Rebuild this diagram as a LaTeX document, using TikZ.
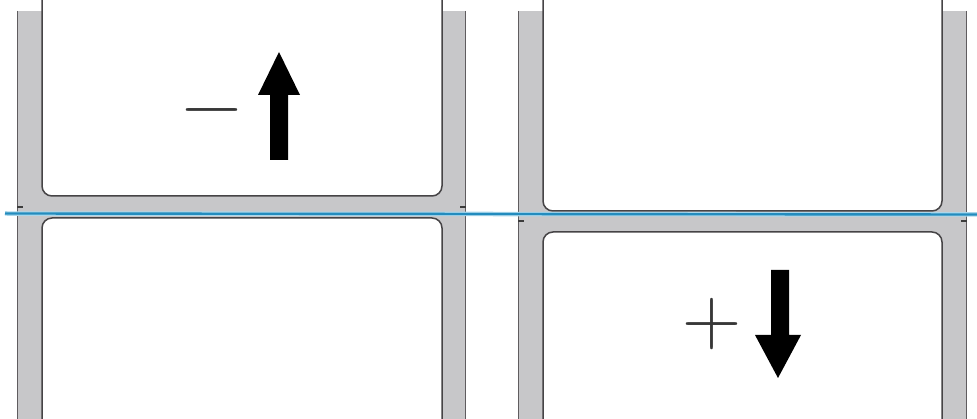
\documentclass[tikz,border=0pt]{standalone}
\definecolor{linergray}{RGB}{199,199,201}
\definecolor{edgegray}{RGB}{95,92,95}
\definecolor{labeledge}{RGB}{70,68,70}
\definecolor{tickgray}{RGB}{60,60,60}
\definecolor{signgray}{RGB}{55,55,55}
\definecolor{cutblue}{RGB}{35,140,190}
\definecolor{cuthalo}{RGB}{170,215,235}
\begin{document}
\begin{tikzpicture}[x=1pt,y=-1pt,
  liner/.style={fill=linergray},
  edge/.style={draw=edgegray,line width=1.8pt},
  labelbox/.style={fill=white,draw=labeledge,line width=1.5pt,rounded corners=10pt},
  tick/.style={draw=tickgray,line width=1.4pt},
  sign/.style={text=signgray,inner sep=0pt,font=\fontsize{82}{82}\selectfont},
  bigarrow/.style={fill=black},
  cutline/.style={draw=cutblue,line width=2.4pt},
  cuthalostyle/.style={draw=cuthalo,line width=4.5pt}]
\useasboundingbox (0,0) rectangle (977,419);
\clip (0,0) rectangle (977,419);
% left panel
\fill[liner] (17,11) rectangle (466,419);
\draw[edge] (17.5,11) -- (17.5,419);
\draw[edge] (465.5,11) -- (465.5,419);
\draw[labelbox] (42,-40) rectangle (442,196);
\draw[labelbox] (42,218) rectangle (442,460);
\draw[tick] (17,207) -- (23,207);
\draw[tick] (460,207) -- (466,207);
% right panel
\fill[liner] (518,11) rectangle (967,419);
\draw[edge] (518.5,11) -- (518.5,419);
\draw[edge] (966.5,11) -- (966.5,419);
\draw[labelbox] (543,-40) rectangle (942,211);
\draw[labelbox] (543,232) rectangle (942,460);
\draw[tick] (518,221) -- (524,221);
\draw[tick] (961,221) -- (967,221);
% cut line
\coordinate (cutA) at (5,213.5);
\coordinate (cutB) at (977,214.5);
\draw[cuthalostyle] (cutA) -- (cutB);
\draw[cutline] (cutA) -- (cutB);
% signs and arrows
\node[sign] (minus) at (212,120) {−};
\fill[bigarrow] (270,160) -- (288,160) -- (288,95) -- (300,95) -- (279,52) -- (258,95) -- (270,95) -- cycle;
\node[sign] (plus) at (712,324) {+};
\fill[bigarrow] (771,270) -- (789,270) -- (789,335) -- (801,335) -- (778,378) -- (755,335) -- (771,335) -- cycle;
\end{tikzpicture}
\end{document}
